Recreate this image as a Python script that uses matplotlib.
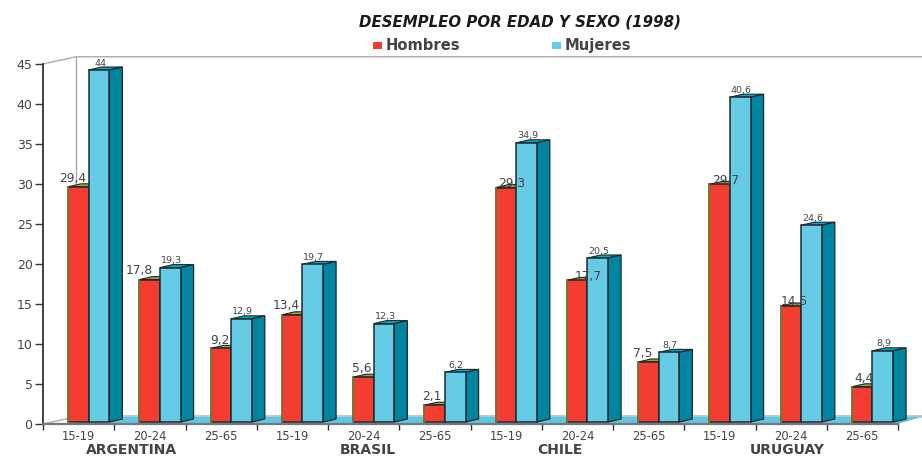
import matplotlib
matplotlib.use("Agg")
import matplotlib.pyplot as plt
from matplotlib.patches import Polygon, Rectangle
import numpy as np

plt.rcParams["font.family"] = ["DejaVu Sans"]

AGE_GROUPS = ["15-19", "20-24", "25-65"] * 4
COUNTRIES = ["ARGENTINA", "BRASIL", "CHILE", "URUGUAY"]
HOMBRES = [29.4, 17.8, 9.2, 13.4, 5.6, 2.1, 29.3, 17.7, 7.5, 29.7, 14.5, 4.4]
MUJERES = [44, 19.3, 12.9, 19.7, 12.3, 6.2, 34.9, 20.5, 8.7, 40.6, 24.6, 8.9]
Y_TICKS = [0, 5, 10, 15, 20, 25, 30, 35, 40, 45]

W, H = 922, 458
RED, RED_TOP = "#F23D30", "#8FA832"
BLUE, BLUE_TOP, BLUE_SIDE = "#66CCE6", "#00A9C9", "#00849F"
EDGE = "#1E2A30"
TEXT = "#444444"

# depth of the fake 3D, in data units (13 px across, 3 px up)
DX, DY = 13 / 71.25, 3 / 8
BASE = 0.25
BAR_W = 0.29
LEFT = 0.351

fig = plt.figure(figsize=(W / 100, H / 100), dpi=100)
ax = fig.add_axes([43 / W, 1 - 424 / H, 855 / W, 360 / H])
ax.set_xlim(0, 12)
ax.set_ylim(0, 45)
ax.patch.set_alpha(0)

# back wall and floor
wall_x = 0.46
ax.plot([0, wall_x, 12.34], [45, 45.9, 45.9], color="#AAAAAA", lw=1, clip_on=False, zorder=1)
ax.plot([wall_x, wall_x], [0.9, 45.9], color="#AAAAAA", lw=1, clip_on=False, zorder=1)
ax.plot([0, wall_x], [0, 0.9], color="#AAAAAA", lw=1, clip_on=False, zorder=1)
ax.add_patch(Polygon([(wall_x, 0.9), (12.34, 0.9), (12.34, 1.05), (wall_x, 1.05)], color="#C8C8C8",
                     lw=1.5, clip_on=False, zorder=1))
ax.add_patch(Polygon([(wall_x, 0.9), (12.34, 0.9), (12, 0), (wall_x, 0)], facecolor="#5DC8E6",
                     edgecolor="none", clip_on=False, zorder=1.5))


def draw_bars(x, values, face, top, side, z):
    ax.bar(x, values, width=BAR_W, bottom=BASE, align="edge", color=face,
           edgecolor=EDGE, linewidth=1.1, zorder=z + 0.2, clip_on=False)
    for xi, v in zip(x, values):
        y1 = v + BASE
        ax.add_patch(Polygon([(xi, y1), (xi + DX, y1 + DY), (xi + BAR_W + DX, y1 + DY), (xi + BAR_W, y1)],
                             facecolor=top, edgecolor=EDGE, lw=0.8, zorder=z, clip_on=False))
        ax.add_patch(Polygon([(xi + BAR_W, BASE), (xi + BAR_W + DX, BASE + DY),
                              (xi + BAR_W + DX, y1 + DY), (xi + BAR_W, y1)],
                             facecolor=side, edgecolor=EDGE, lw=0.9, zorder=z, clip_on=False))


pos = np.arange(12) + LEFT
draw_bars(pos, HOMBRES, RED, RED_TOP, RED_TOP, 2)
draw_bars(pos + BAR_W, MUJERES, BLUE, BLUE_TOP, BLUE_SIDE, 3)

# olive left edge on the red bars
for xi, v in zip(pos, HOMBRES):
    ax.plot([xi, xi], [BASE, v + BASE], color="#7D8A2A", lw=1.1, zorder=2.5, clip_on=False)

# data labels, placed by hand in the original
red_dx = [5, 0, 9, 4, 9, 8, 16, 21, 5, 16, 14, 12]
red_dy = [8, 9, 8, 9, 9, 9, 4, 4, 9, 4, 4, 8]
for xi, v, dx, dy in zip(pos, HOMBRES, red_dx, red_dy):
    ax.annotate(f"{v}".replace(".", ","), (xi, v + BASE), xytext=(dx * 0.72, dy * 0.72),
                textcoords="offset points", ha="center", va="center", fontsize=8.8,
                color=TEXT, zorder=6, annotation_clip=False)
for xi, v in zip(pos + BAR_W, MUJERES):
    ax.annotate(f"{v}".replace(".", ","), (xi + 0.16, v + BASE), xytext=(0, 5),
                textcoords="offset points", ha="center", va="center", fontsize=6.8,
                color=TEXT, zorder=6, annotation_clip=False)

for s in ["top", "right"]:
    ax.spines[s].set_visible(False)
ax.spines["left"].set_color("#333333")
ax.spines["left"].set_linewidth(1.3)
ax.spines["bottom"].set_color("#777777")
ax.spines["bottom"].set_linewidth(1.6)
ax.spines["bottom"].set_zorder(5)

ax.set_yticks(Y_TICKS)
ax.tick_params(axis="y", length=5.5, width=1, color="#333333", labelsize=9, labelcolor=TEXT, pad=2)
ax.set_xticks(range(13))
ax.set_xticklabels([])
ax.tick_params(axis="x", which="major", length=4, width=1, color="#333333")
ax.set_xticks(np.arange(12) + 0.5, minor=True)
ax.set_xticklabels(AGE_GROUPS, minor=True, fontsize=8.3, color=TEXT)
ax.tick_params(axis="x", which="minor", length=0, pad=4)

# text placed in pixel coordinates of the figure
for name, cx in zip(COUNTRIES, [131, 368, 560, 787]):
    fig.text(cx / W, 1 - 450.5 / H, name, ha="center", va="center", fontsize=10,
             fontweight="bold", color=TEXT)
fig.text(520 / W, 1 - 22 / H, "DESEMPLEO POR EDAD Y SEXO (1998)", ha="center", va="center",
         fontsize=10.8, fontweight="bold", fontstyle="italic", color="#1A1A1A")

for sq, tx, col, label in [(373, 386, RED, "Hombres"), (552, 565, BLUE, "Mujeres")]:
    fig.add_artist(Rectangle((sq / W, 1 - 49 / H), 9 / W, 7 / H, transform=fig.transFigure,
                             facecolor=col, edgecolor="none"))
    fig.text(tx / W, 1 - 45.5 / H, label, ha="left", va="center", fontsize=10.6,
             fontweight="bold", color=TEXT)

fig.savefig("out.png", dpi=100)
